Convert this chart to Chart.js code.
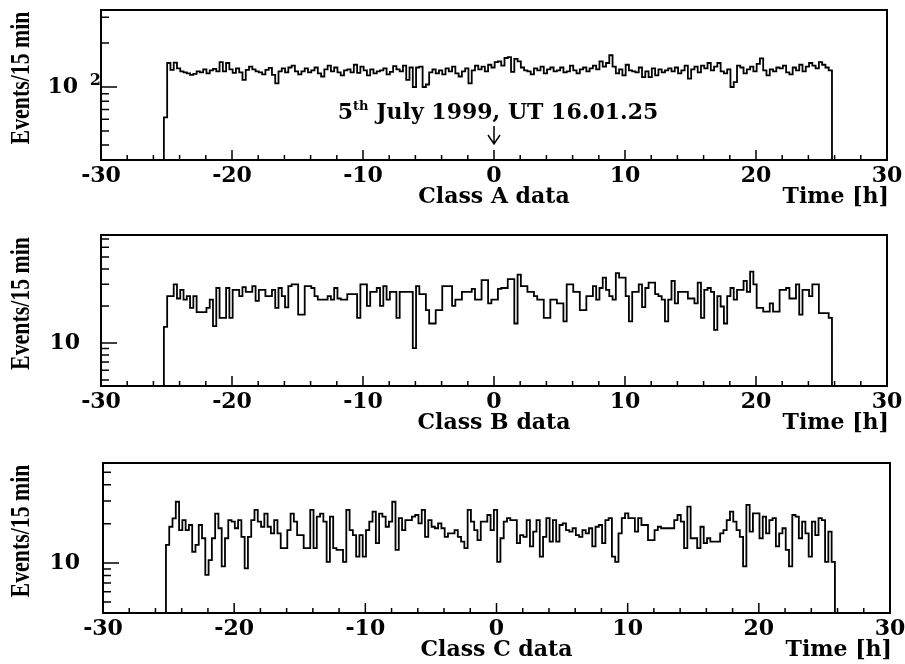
<!DOCTYPE html>
<html>
<head>
<meta charset="utf-8">
<script src="https://cdn.jsdelivr.net/npm/chart.js@4/dist/chart.umd.min.js"></script>
<style>
  html, body { margin: 0; padding: 0; background: #fff; }
  #wrap { position: relative; width: 905px; height: 664px; }
  canvas { position: absolute; left: 0; }
</style>
</head>
<body>
<div id="wrap">
  <canvas id="chartA" width="905" height="222" style="top:0"></canvas>
  <canvas id="chartB" width="905" height="228" style="top:222px"></canvas>
  <canvas id="chartC" width="905" height="214" style="top:450px"></canvas>
</div>
<script>
// histogram bins are 15 min wide, first bin starts at -25.2 h
const binStart = -25.2;
const binWidth = 0.25;

// events per 15 min, one row = one hour
const classA = [
  62,146,131,147, 134,128,126,124, 121,123,128,126, 132,124,130,133,
  128,148,128,146, 132,125,134,126, 112,131,138,132, 128,126,122,131,
  135,121,106,128, 134,126,136,140, 128,122,128,134, 126,130,136,124,
  118,132,140,128, 136,126,120,130, 132,126,142,125, 138,130,120,132,
  124,128,130,134, 122,127,139,132, 128,140,112,136, 100,136,138,100,
  104,126,132,124, 130,122,134,128, 138,124,118,128, 134,106,130,140,
  132,138,128,142, 136,148,150,140, 158,160,127,156, 150,136,130,128,
  122,134,130,138, 124,132,136,128, 130,136,126,128, 140,130,124,132,
  136,128,134,140, 132,150,138,146, 165,138,124,132, 120,142,130,128,
  126,136,117,128, 117,134,120,132, 126,130,134,128, 136,124,130,140,
  114,132,138,126, 140,134,146,130, 138,146,128,124, 132,100,108,140,
  136,124,132,138, 128,144,157,130, 120,132,128,136, 134,140,126,122,
  136,130,142,128, 138,146,140,134, 148,142,136,130
];
const classB = [
  13.5,24,24,30, 23,27,22.5,24, 19.3,24,17.8,17.8, 17.8,19.3,22.5,13.7,
  28,16,16,28, 16,27,27,24, 28.5,26,26,29, 22,27,27,24,
  24,27,19.3,28, 24,19.5,29,30, 30,17,17,29, 29,28,24,22.5,
  22.5,22.5,24,22.5, 28,23,22.5,22.5, 25,25,25,16, 30,30,20,26,
  26,28,20,29, 22.5,26,26,16, 26,26,26,26, 9.1,29,25,25,
  18.5,14.4,14.4,18.5, 18.5,29,29,29, 20,22.5,22.5,26, 26,26,27.5,22.5,
  22.5,32.5,32.5,21, 22.5,22.5,27.5,28, 28,33,33,14.4, 36,29,29,26,
  26,24,22.5,22.5, 16,16,22.5,22.5, 21,21,15,30, 30,26,26,18.5,
  18.5,24,24,29, 22.5,28,34,27, 24,22.5,37,34, 34,24,15,26,
  26,30,19.6,28, 31,31,25,24, 22.5,15,22.5,32, 21,26,26,26,
  23,23,21,31, 16,27,28,26, 12.8,24,19.8,14.4, 24,28,22.5,27,
  27,32,26,38, 30,19.3,19.3,18, 18,21,18,18, 27,27,28,23,
  23,30,17,27, 27,24,30,30, 17.5,17.5,17.5,16
];
const classC = [
  13.8,19,22,29.6, 17.9,21.4,17.9,19.6, 12.2,13.8,19.6,15.5, 8.1,10.5,15.5,24,
  18.5,9.4,15.5,21.4, 20.8,18.5,21.4,15.9, 9.1,15.9,21.4,25.6, 20.8,19,24,19,
  16.9,21.4,16.9,13, 13,17.9,24,20.8, 16.4,16.4,13,13, 25.6,13,22.7,24,
  20.8,10.2,22.7,13, 12.6,12.6,10.2,25.6, 17.9,16.4,11.2,16.4, 11.2,17.9,20.8,24.8,
  14.2,24,22.7,19, 20.8,29.6,12.6,22.1, 17.9,21.4,21.4,22.7, 23.4,20.2,25.6,15.9,
  21.4,19,18.5,20.2, 18.5,15.9,16.9,16.9, 17.9,15.9,14.6,13, 25.6,20.8,17.9,15,
  20.8,20.8,23.4,17.9, 25.6,10.2,15.5,20.8, 22.1,21.4,21.4,14.2, 16.4,15.9,21.4,13.4,
  17.4,21.4,11.2,15.9, 22.1,14.6,21.4,14.6, 19.6,20.2,17.9,17.4, 18.5,16.4,15.9,17.9,
  16.9,18.5,13.4,19, 19.6,14.2,21.4,22.1, 11.2,10.2,16.9,22.1, 24.1,22.1,22.1,17.4,
  22.1,19.6,19.6,15, 15,17.9,19,18.5, 18.5,18.5,18.5,21.4, 23.4,20.8,13,27.1,
  15.5,15.5,13,19, 14.2,15.5,14.6,14.6, 14.6,16.9,17.9,21.4, 24.8,20.8,17.9,15.9,
  9.4,28,17.4,24.1, 24.1,15.5,22.7,16.9, 21.4,22.1,13.4,16.9, 18.5,12.6,9.4,23.4,
  22.7,15.5,20.8,16.9, 11.2,20.8,16.4,22.1, 21.4,10.2,17.4,10.2
];

const xTicks = [-30, -20, -10, 0, 10, 20, 30];
const panelLabels = ['Class A data', 'Class B data', 'Class C data'];
const yLabelValues = [100, 10, 10];
const yExponents = ['2', '', ''];
const yMins = [31.6, 4.47, 4.12];
const yMaxs = [337, 75.5, 58.8];

Chart.defaults.font.family = '"DejaVu Serif"';
Chart.defaults.font.size = 22;
Chart.defaults.font.weight = 'bold';
Chart.defaults.color = '#000';

// turn bin contents into a closed step outline
function histPoints(values) {
  const pts = [{x: binStart, y: 1}];
  values.forEach((v, i) => pts.push({x: binStart + i * binWidth, y: v}));
  const end = binStart + values.length * binWidth;
  pts.push({x: end, y: values[values.length - 1]});
  pts.push({x: end, y: 1});
  return pts;
}

// frame, inward ticks and the extra texts
const deco = {
  id: 'deco',
  afterDraw(chart, args, opts) {
    const ctx = chart.ctx;
    const a = chart.chartArea;
    const x = chart.scales.x, y = chart.scales.y;
    ctx.save();
    ctx.strokeStyle = '#000';
    ctx.fillStyle = '#000';
    ctx.lineWidth = 2;
    ctx.strokeRect(a.left, a.top, a.right - a.left, a.bottom - a.top);

    ctx.lineWidth = 1.5;
    ctx.beginPath();
    for (let t = -28; t <= 28; t += 2) {
      const px = x.getPixelForValue(t);
      const len = t % 10 === 0 ? 10 : 5;
      ctx.moveTo(px, a.bottom);
      ctx.lineTo(px, a.bottom - len);
    }
    for (let p = 1; p <= 1000; p *= 10) {
      for (let m = 1; m < 10; m++) {
        const v = m * p;
        if (v <= y.min || v >= y.max) continue;
        const py = y.getPixelForValue(v);
        ctx.moveTo(a.left, py);
        ctx.lineTo(a.left + (m === 1 ? 16 : 8), py);
      }
    }
    ctx.stroke();

    // exponent of the y label (10^2)
    if (opts.exponent) {
      ctx.font = 'bold 16px "DejaVu Serif"';
      ctx.textAlign = 'right';
      ctx.textBaseline = 'middle';
      ctx.fillText(opts.exponent, a.left, y.getPixelForValue(opts.labelValue) - 6);
    }

    ctx.font = 'bold 22px "DejaVu Serif"';
    ctx.textBaseline = 'middle';
    ctx.textAlign = 'center';
    ctx.fillText(opts.label, (a.left + a.right) / 2, a.bottom + 37);
    ctx.textAlign = 'right';
    ctx.fillText('Time [h]', a.right + 2, a.bottom + 37);

    // narrow rotated y title
    ctx.save();
    ctx.translate(22, (a.top + a.bottom) / 2 - 7);
    ctx.rotate(-Math.PI / 2);
    ctx.scale(0.78, 1);
    ctx.font = 'bold 28px "Liberation Serif"';
    ctx.textAlign = 'center';
    ctx.fillText('Events/15 min', 0, 0);
    ctx.restore();

    if (opts.note) {
      const px = x.getPixelForValue(0);
      const rest = ' July 1999, UT 16.01.25';
      ctx.textAlign = 'left';
      ctx.textBaseline = 'alphabetic';
      ctx.font = 'bold 22px "DejaVu Serif"';
      const w1 = ctx.measureText('5').width;
      const w3 = ctx.measureText(rest).width;
      ctx.font = 'bold 13px "DejaVu Serif"';
      const w2 = ctx.measureText('th').width;
      let sx = px + 4 - (w1 + w2 + w3) / 2;
      ctx.font = 'bold 22px "DejaVu Serif"';
      ctx.fillText('5', sx, 119);
      ctx.font = 'bold 13px "DejaVu Serif"';
      ctx.fillText('th', sx + w1, 110);
      ctx.font = 'bold 22px "DejaVu Serif"';
      ctx.fillText(rest, sx + w1 + w2, 119);
      // arrow down to t = 0
      ctx.lineWidth = 1.5;
      ctx.beginPath();
      ctx.moveTo(px, 126);
      ctx.lineTo(px, 144);
      ctx.moveTo(px - 6, 135);
      ctx.lineTo(px, 144);
      ctx.lineTo(px + 6, 135);
      ctx.stroke();
    }
    ctx.restore();
  }
};

function makePanel(id, i, values, pad, leftW, xHeight, yPad, note) {
  return new Chart(document.getElementById(id), {
    type: 'line',
    data: {
      datasets: [{
        data: histPoints(values),
        stepped: true,
        borderColor: '#000',
        borderWidth: 1.8,
        pointRadius: 0,
        fill: false
      }]
    },
    options: {
      responsive: false,
      animation: false,
      devicePixelRatio: 1,
      events: [],
      layout: { padding: pad },
      plugins: {
        legend: { display: false },
        tooltip: { enabled: false },
        deco: { label: panelLabels[i], note: note, exponent: yExponents[i], labelValue: yLabelValues[i] }
      },
      scales: {
        x: {
          type: 'linear',
          min: -30, max: 30,
          afterBuildTicks: s => { s.ticks = xTicks.map(v => ({value: v})); },
          afterFit: s => { s.height = xHeight; s.paddingLeft = 0; s.paddingRight = 0; },
          grid: { display: false, drawTicks: false },
          border: { display: false },
          ticks: { padding: 3, maxRotation: 0, autoSkip: false, callback: v => String(v) }
        },
        y: {
          type: 'logarithmic',
          min: yMins[i], max: yMaxs[i],
          afterBuildTicks: s => { s.ticks = [{value: yLabelValues[i]}]; },
          // fixed width; tick padding must not push the plot area down
          afterFit: s => { s.width = leftW; s.paddingTop = 0; s.paddingBottom = 0; },
          grid: { display: false, drawTicks: false },
          border: { display: false },
          ticks: { padding: yPad, callback: () => '10' }
        }
      }
    },
    plugins: [deco]
  });
}

makePanel('chartA', 0, classA, {top: 10, right: 18, left: 0, bottom: 0}, 101, 62, 23, true);
makePanel('chartB', 1, classB, {top: 13, right: 18, left: 0, bottom: 0}, 101, 64, 21, false);
makePanel('chartC', 2, classC, {top: 13, right: 15, left: 0, bottom: 0}, 103, 51, 23, false);
</script>
</body>
</html>
